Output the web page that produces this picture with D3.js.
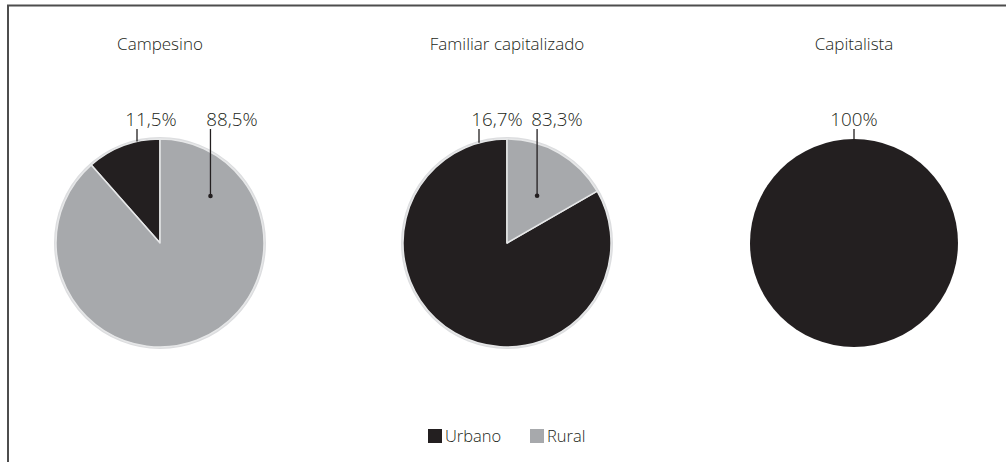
<!DOCTYPE html>
<html>
<head>
<meta charset="utf-8">
<script src="https://cdn.jsdelivr.net/npm/d3@7"></script>
<style>
  body { margin: 0; background: #fff; }
  text { font-family: "Open Sans", "Noto Sans", sans-serif; font-weight: 300; fill: #231f20; }
</style>
</head>
<body>
<div id="chart"></div>
<script>
// data
let groups = ["Campesino", "Familiar capitalizado", "Capitalista"];
let categories = ["Urbano", "Rural"];
let urbano = [11.5, 83.3, 100];
let rural = [88.5, 16.7, 0];
// labels as printed above each pie (left to right)
let pieLabels = [["11,5%", "88,5%"], ["16,7%", "83,3%"], ["100%"]];

let width = 1006;
let height = 462;
let svg = d3.select("#chart").append("svg")
    .attr("width", width)
    .attr("height", height);

// frame (top + left only)
svg.append("path")
    .attr("d", "M8,462V5.5H1006")
    .attr("fill", "none")
    .attr("stroke", "#4d4d4d")
    .attr("stroke-width", 2);

let color = d3.scaleOrdinal()
    .domain(categories)
    .range(["#231f20", "#a7a9ac"]);

let x = d3.scalePoint()
    .domain(groups)
    .range([160, 854]);

let cy = 243;
let r = 104;

// counter-clockwise from 12 o'clock
let pie = d3.pie().sort(null).value(d => d.value)
    .startAngle(0).endAngle(-2 * Math.PI);
let arc = d3.arc().innerRadius(0).outerRadius(r);

// label layout per pie: text center offset, leader x offset, dot (angle, radius) or null
let labelLayout = [
    [{dx: -9, lx: -23, dot: null}, {dx: 72, lx: 51, dot: [47, 69]}],
    [{dx: -10, lx: -28, dot: null}, {dx: 50, lx: 30, dot: [32.5, 56]}],
    [{dx: 0, lx: 0, dot: null}]
];

groups.forEach(function(g, i) {
    let cx = x(g);
    let gEl = svg.append("g").attr("transform", "translate(" + cx + "," + cy + ")");

    let vals = categories.map((c, j) => ({key: c, value: j === 0 ? urbano[i] : rural[i]}))
        .filter(d => d.value > 0);

    if (vals.length > 1) {
        gEl.append("circle").attr("r", r + 1).attr("fill", "none")
            .attr("stroke", "#dcdddf").attr("stroke-width", 2);
    }

    gEl.selectAll("path.slice")
        .data(pie(vals))
        .join("path")
        .attr("class", "slice")
        .attr("d", arc)
        .attr("fill", d => color(d.data.key))
        .attr("stroke", vals.length > 1 ? "#e6e7e8" : "none")
        .attr("stroke-width", 1.5)
        .attr("stroke-linejoin", "round");

    svg.append("text")
        .attr("x", cx)
        .attr("y", 50)
        .attr("text-anchor", "middle")
        .style("font-size", "17px")
        .text(g);

    pieLabels[i].forEach(function(lbl, k) {
        let lay = labelLayout[i][k];
        svg.append("text")
            .attr("x", cx + lay.dx)
            .attr("y", 126)
            .attr("text-anchor", "middle")
            .style("font-size", "18.8px")
            .text(lbl);
        let y2;
        if (lay.dot) {
            let a = lay.dot[0] * Math.PI / 180;
            let px = Math.sin(a) * lay.dot[1];
            y2 = cy - Math.cos(a) * lay.dot[1];
            svg.append("line")
                .attr("x1", cx + px).attr("x2", cx + px)
                .attr("y1", 129).attr("y2", y2)
                .attr("stroke", "#231f20").attr("stroke-width", 1.3);
            svg.append("circle")
                .attr("cx", cx + px).attr("cy", y2).attr("r", 2.3)
                .attr("fill", "#231f20");
        } else {
            y2 = cy - Math.sqrt(r * r - lay.lx * lay.lx);
            svg.append("line")
                .attr("x1", cx + lay.lx).attr("x2", cx + lay.lx)
                .attr("y1", 129).attr("y2", y2)
                .attr("stroke", "#231f20").attr("stroke-width", 1.3);
        }
    });
});

// legend
let legend = svg.append("g").attr("transform", "translate(428,429)");
let legX = d3.scaleOrdinal().domain(categories).range([0, 102]);
categories.forEach(function(c) {
    legend.append("rect")
        .attr("x", legX(c)).attr("y", 0)
        .attr("width", 14).attr("height", 14)
        .attr("fill", color(c));
    legend.append("text")
        .attr("x", legX(c) + 17)
        .attr("y", 13)
        .style("font-size", "16.5px")
        .text(c);
});
</script>
</body>
</html>
